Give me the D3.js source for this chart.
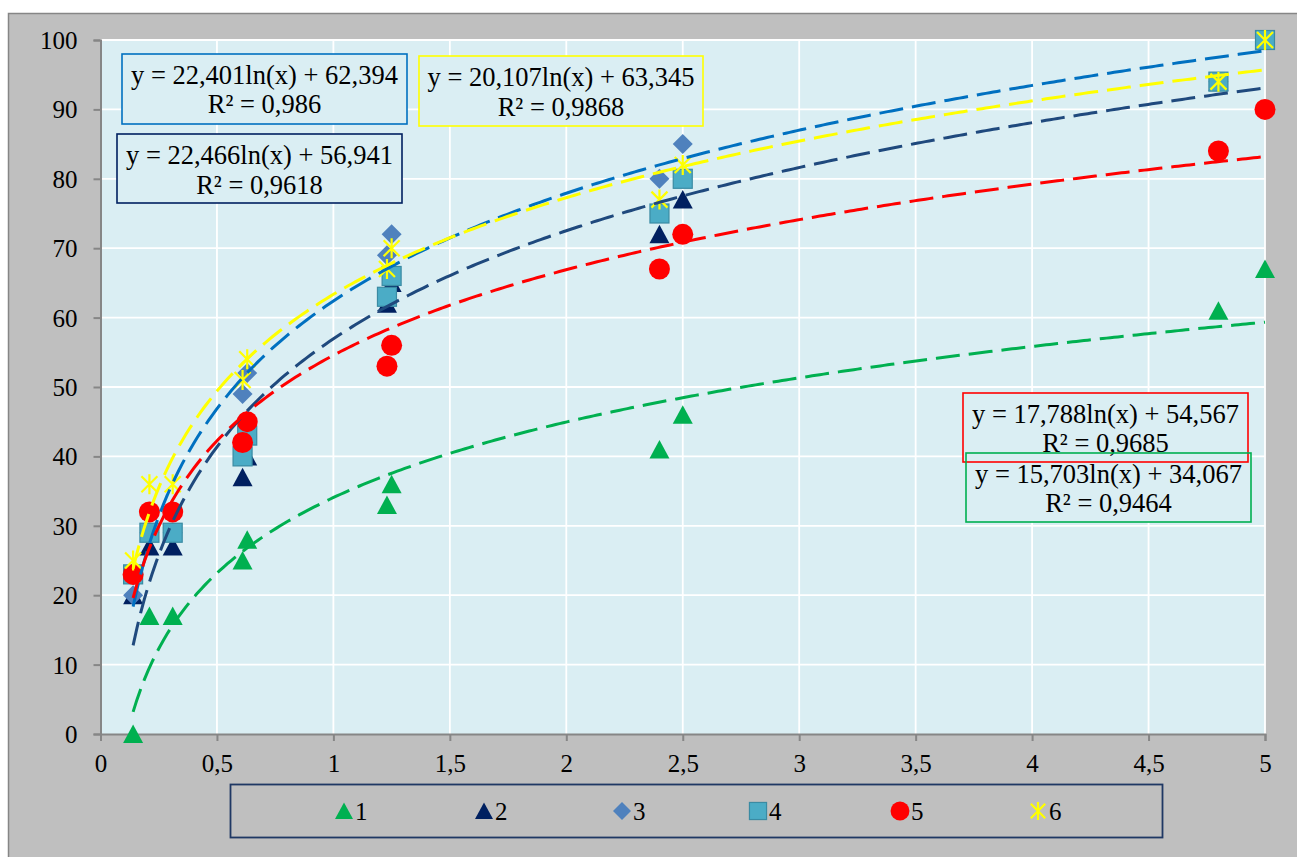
<!DOCTYPE html>
<html>
<head>
<meta charset="utf-8">
<script src="https://cdn.jsdelivr.net/npm/d3@7"></script>
<style>
  html, body { margin: 0; padding: 0; background: #ffffff; }
  svg { display: block; }
  svg text { font-family: "Liberation Serif", Tinos, "Times New Roman", "DejaVu Serif", "Noto Serif", serif; fill: #000; }
</style>
</head>
<body>
<svg id="chart" width="1297" height="857"></svg>
<script>
// Sample distance values shared by all six series
const xValues = [0.14, 0.21, 0.31, 0.61, 0.63, 1.23, 1.25, 2.4, 2.5, 4.8, 5];

// Measured values per series
const series1 = [0, 17, 17, 25, 28, 33, 36, 41, 46, 61, 67];
const series2 = [20, 27, 27, 37, 40, 62, 65, 72, 77, 94, 100];
const series3 = [20, 29, 29, 49, 52, 69, 72, 80, 85, 94, 100];
const series4 = [23, 29, 29, 40, 43, 63, 66, 75, 80, 94, 100];
const series5 = [23, 32, 32, 42, 45, 53, 56, 67, 72, 84, 90];
const series6 = [25, 36, 36, 51, 54, 67, 70, 77, 82, 94, 100];

const seriesNames = ["1", "2", "3", "4", "5", "6"];

// Logarithmic trendlines: y = a*ln(x) + b
const trendSeries = [1, 2, 3, 5, 6];
const trendA = [15.703, 22.466, 22.401, 17.788, 20.107];
const trendB = [34.067, 56.941, 62.394, 54.567, 63.345];
const trendR2 = ["0,9464", "0,9618", "0,986", "0,9685", "0,9868"];

// Axis ticks
const xTicks = [0, 0.5, 1, 1.5, 2, 2.5, 3, 3.5, 4, 4.5, 5];
const yTicks = [0, 10, 20, 30, 40, 50, 60, 70, 80, 90, 100];

const FONT = '"Liberation Serif", Tinos, "Times New Roman", "DejaVu Serif", "Noto Serif", serif';

const svg = d3.select("#chart");

const x = d3.scaleLinear().domain([0, 5]).range([100.5, 1265]);
const y = d3.scaleLinear().domain([0, 100]).range([734, 40]);

const markerStyle = {
  1: { shape: "triangle", fill: "#00b050" },
  2: { shape: "triangle", fill: "#002060" },
  3: { shape: "diamond", fill: "#4f81bd" },
  4: { shape: "square", fill: "#4bacc6", stroke: "#3a8ba3" },
  5: { shape: "circle", fill: "#ff0000" },
  6: { shape: "star", stroke: "#ffff00" }
};
const trendColor = { 1: "#00b050", 2: "#1f497d", 3: "#0070c0", 5: "#ff0000", 6: "#ffff00" };
const boxColor = { 1: "#00b050", 2: "#002060", 3: "#0070c0", 5: "#ff0000", 6: "#ffff00" };

// Chart area
svg.append("rect").attr("x", 8.5).attr("y", 13.5).attr("width", 1300).attr("height", 860)
  .attr("fill", "#bfbfbf").attr("stroke", "#868686").attr("stroke-width", 1.5);

// Plot area
svg.append("rect").attr("x", x(0)).attr("y", y(100))
  .attr("width", x(5) - x(0)).attr("height", y(0) - y(100)).attr("fill", "#daeef3");

// Gridlines
svg.append("g").selectAll("line").data(yTicks.slice(1)).join("line")
  .attr("x1", x(0)).attr("x2", x(5)).attr("y1", d => y(d)).attr("y2", d => y(d))
  .attr("stroke", "#ffffff").attr("stroke-width", 1.8);
svg.append("g").selectAll("line").data(xTicks.slice(1)).join("line")
  .attr("x1", d => x(d)).attr("x2", d => x(d)).attr("y1", y(0)).attr("y2", y(100))
  .attr("stroke", "#ffffff").attr("stroke-width", 1.8);

// Axes
const xAxis = d3.axisBottom(x).tickValues(xTicks).tickSize(7).tickPadding(8)
  .tickFormat(d => String(d).replace(".", ","));
const yAxis = d3.axisLeft(y).tickValues(yTicks).tickSize(7).tickPadding(16);

const gx = svg.append("g").attr("transform", `translate(0,${y(0)})`).call(xAxis);
const gy = svg.append("g").attr("transform", `translate(${x(0)},0)`).call(yAxis);
[gx, gy].forEach(g => {
  g.attr("font-family", FONT).attr("font-size", 25);
  g.select(".domain").attr("stroke", "#868686").attr("stroke-width", 2);
  g.selectAll(".tick line").attr("stroke", "#868686").attr("stroke-width", 2);
  g.selectAll(".tick text").attr("font-family", FONT).attr("font-size", 25).attr("fill", "#000");
});
gy.selectAll(".tick text").attr("dy", "0.34em");
gx.selectAll(".tick text").attr("dy", "0.9em");

// Marker drawing
function drawMarker(g, style, scale) {
  const s = scale || 1;
  if (style.shape === "triangle") {
    g.append("path").attr("d", `M0,${-9.5 * s}L${10 * s},${9 * s}L${-10 * s},${9 * s}Z`).attr("fill", style.fill);
  } else if (style.shape === "diamond") {
    const r = 10 * s;
    g.append("path").attr("d", `M0,${-r}L${r},0L0,${r}L${-r},0Z`).attr("fill", style.fill);
  } else if (style.shape === "square") {
    const h = 9.5 * s;
    g.append("rect").attr("x", -h).attr("y", -h).attr("width", 2 * h).attr("height", 2 * h)
      .attr("fill", style.fill).attr("stroke", style.stroke).attr("stroke-width", 1.2);
  } else if (style.shape === "circle") {
    g.append("circle").attr("r", 10.5 * s).attr("fill", style.fill);
  } else if (style.shape === "star") {
    const r = 10 * s, d = 8 * s;
    g.append("path").attr("d", `M0,${-r}L0,${r}M${-d},${-d}L${d},${d}M${-d},${d}L${d},${-d}`)
      .attr("stroke", style.stroke).attr("stroke-width", 2.2).attr("fill", "none");
  }
}

const allSeries = [series1, series2, series3, series4, series5, series6];

// Data markers, series 1 underneath, series 6 on top
allSeries.forEach((vals, i) => {
  const g = svg.append("g");
  vals.forEach((v, j) => {
    const m = g.append("g").attr("transform", `translate(${x(xValues[j])},${y(v)})`);
    drawMarker(m, markerStyle[i + 1]);
  });
});

// Trendlines drawn over the markers
const xMin = d3.min(xValues), xMax = d3.max(xValues);
const samples = d3.range(0, 301).map(k => xMin + (xMax - xMin) * k / 300);
const line = d3.line().x(d => x(d[0])).y(d => y(d[1]));
trendSeries.forEach((sid, i) => {
  const pts = samples.map(t => [t, trendA[i] * Math.log(t) + trendB[i]]);
  svg.append("path").attr("d", line(pts)).attr("fill", "none")
    .attr("stroke", trendColor[sid]).attr("stroke-width", 3)
    .attr("stroke-dasharray", "24,9");
});

// Trendline equation labels
const fmt = v => v.toFixed(3).replace(".", ",");
const labelBoxes = [
  { sid: 3, x0: 122, y0: 54, x1: 407, y1: 124, b1: 84, b2: 113 },
  { sid: 2, x0: 117, y0: 134, x1: 402, y1: 203, b1: 164, b2: 194 },
  { sid: 6, x0: 419, y0: 56, x1: 703, y1: 126, b1: 86, b2: 116 },
  { sid: 5, x0: 963, y0: 393, x1: 1248, y1: 462, b1: 423, b2: 452 },
  { sid: 1, x0: 966, y0: 453, x1: 1251, y1: 522, b1: 483, b2: 512 }
];
const lg = svg.append("g").attr("font-family", FONT);
labelBoxes.forEach(b => {
  lg.append("rect").attr("x", b.x0).attr("y", b.y0).attr("width", b.x1 - b.x0).attr("height", b.y1 - b.y0)
    .attr("fill", "#daeef3");
});
labelBoxes.forEach(b => {
  const i = trendSeries.indexOf(b.sid);
  lg.append("rect").attr("x", b.x0).attr("y", b.y0).attr("width", b.x1 - b.x0).attr("height", b.y1 - b.y0)
    .attr("fill", "none").attr("stroke", boxColor[b.sid]).attr("stroke-width", 1.6);
  const cx = (b.x0 + b.x1) / 2;
  lg.append("text").attr("x", cx).attr("y", b.b1).attr("text-anchor", "middle").attr("font-size", 26.5)
    .attr("font-family", FONT).text(`y = ${fmt(trendA[i])}ln(x) + ${fmt(trendB[i])}`);
  lg.append("text").attr("x", cx).attr("y", b.b2).attr("text-anchor", "middle").attr("font-size", 26.5)
    .attr("font-family", FONT).text(`R² = ${trendR2[i]}`);
});

// Legend
svg.append("rect").attr("x", 230.5).attr("y", 784.5).attr("width", 932).attr("height", 53)
  .attr("fill", "none").attr("stroke", "#1f3864").attr("stroke-width", 1.8);
const legendX = [344, 484, 622, 758, 900, 1038];
seriesNames.forEach((name, i) => {
  const g = svg.append("g").attr("transform", `translate(${legendX[i]},811)`);
  drawMarker(g, markerStyle[i + 1], 0.9);
  g.append("text").attr("x", 11).attr("y", 9).attr("font-size", 25).attr("font-family", FONT).text(name);
});
</script>
</body>
</html>
